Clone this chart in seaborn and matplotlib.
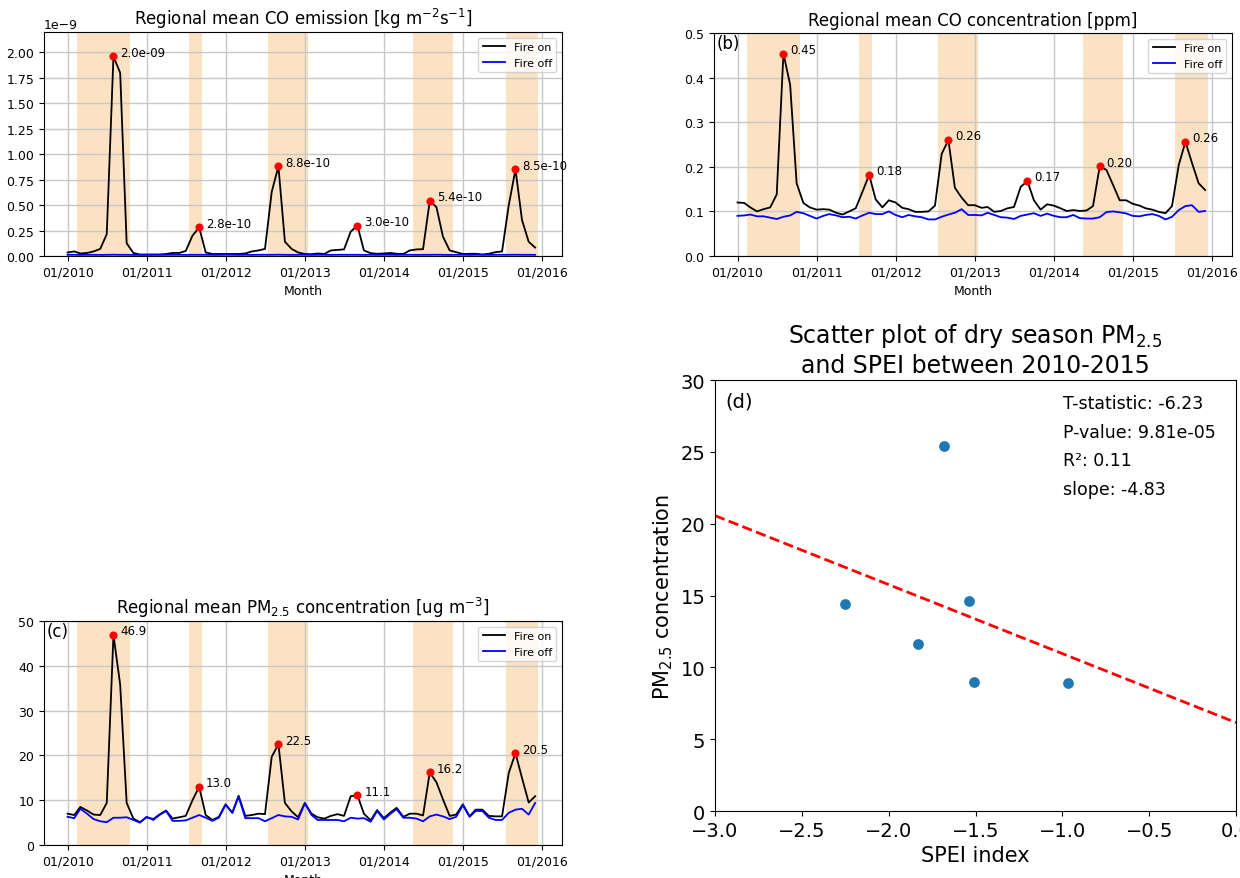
# regional fire impact: CO emission, CO / PM2.5 concentration and SPEI scatter

import numpy as np
import pandas as pd
import seaborn as sns
import matplotlib.pyplot as plt
import matplotlib.dates as mdates

months = pd.date_range('2010-01-01', periods=72, freq='MS')

# CO emission, in units of 1e-9 kg m-2 s-1
co_emis_on = [0.035, 0.045, 0.025, 0.03, 0.045, 0.07, 0.215, 1.96, 1.80, 0.125, 0.03, 0.015,
              0.015, 0.015, 0.015, 0.02, 0.03, 0.03, 0.05, 0.2, 0.281, 0.035, 0.02, 0.02,
              0.02, 0.02, 0.02, 0.025, 0.045, 0.055, 0.07, 0.63, 0.881, 0.14, 0.07, 0.035,
              0.02, 0.018, 0.025, 0.02, 0.055, 0.06, 0.065, 0.24, 0.298, 0.055, 0.028, 0.022,
              0.025, 0.03, 0.022, 0.02, 0.055, 0.065, 0.067, 0.541, 0.48, 0.19, 0.055, 0.038,
              0.02, 0.022, 0.022, 0.015, 0.022, 0.038, 0.045, 0.50, 0.851, 0.355, 0.14, 0.083]
co_emis_off = [0.012, 0.012, 0.011, 0.012, 0.012, 0.011, 0.012, 0.013, 0.012, 0.012, 0.011, 0.011,
               0.011, 0.012, 0.012, 0.011, 0.012, 0.012, 0.011, 0.012, 0.012, 0.012, 0.011, 0.011,
               0.012, 0.012, 0.011, 0.012, 0.011, 0.012, 0.012, 0.012, 0.013, 0.012, 0.011, 0.012,
               0.012, 0.011, 0.012, 0.012, 0.011, 0.012, 0.012, 0.012, 0.012, 0.011, 0.012, 0.011,
               0.012, 0.012, 0.011, 0.012, 0.012, 0.011, 0.012, 0.012, 0.013, 0.012, 0.011, 0.012,
               0.012, 0.011, 0.012, 0.012, 0.011, 0.012, 0.012, 0.012, 0.013, 0.012, 0.012, 0.012]

# CO concentration [ppm]
co_conc_on = [0.120, 0.119, 0.109, 0.100, 0.105, 0.109, 0.138, 0.454, 0.384, 0.163, 0.119, 0.109,
              0.104, 0.105, 0.104, 0.097, 0.093, 0.100, 0.107, 0.144, 0.182, 0.127, 0.109, 0.125,
              0.120, 0.108, 0.105, 0.099, 0.099, 0.100, 0.113, 0.229, 0.260, 0.153, 0.131, 0.114,
              0.114, 0.108, 0.110, 0.099, 0.101, 0.107, 0.110, 0.155, 0.168, 0.125, 0.104, 0.116,
              0.113, 0.107, 0.101, 0.103, 0.101, 0.102, 0.112, 0.201, 0.193, 0.160, 0.125, 0.125,
              0.117, 0.113, 0.107, 0.104, 0.099, 0.096, 0.112, 0.204, 0.256, 0.209, 0.163, 0.148]
co_conc_off = [0.090, 0.091, 0.093, 0.089, 0.089, 0.086, 0.083, 0.088, 0.091, 0.099, 0.096, 0.090,
               0.084, 0.090, 0.094, 0.091, 0.087, 0.088, 0.084, 0.091, 0.097, 0.094, 0.094, 0.100,
               0.092, 0.087, 0.092, 0.089, 0.087, 0.082, 0.082, 0.088, 0.093, 0.097, 0.105, 0.092,
               0.092, 0.091, 0.097, 0.092, 0.087, 0.086, 0.083, 0.090, 0.093, 0.096, 0.090, 0.095,
               0.090, 0.087, 0.087, 0.092, 0.085, 0.084, 0.084, 0.087, 0.0985, 0.100, 0.098, 0.0955,
               0.090, 0.089, 0.092, 0.094, 0.090, 0.082, 0.088, 0.103, 0.112, 0.114, 0.099, 0.101]

# PM2.5 concentration [ug m-3]
pm_on = [7.0, 6.7, 8.5, 7.7, 6.8, 6.7, 9.4, 46.9, 35.8, 9.4, 5.9, 5.1,
         6.2, 5.8, 6.8, 7.7, 5.9, 6.2, 6.5, 10.0, 13.0, 6.7, 5.6, 6.3,
         9.1, 7.2, 11.0, 6.5, 6.7, 7.0, 6.9, 19.7, 22.5, 9.4, 7.5, 6.2,
         9.4, 7.0, 6.2, 5.9, 6.5, 6.9, 6.5, 10.9, 11.1, 7.0, 5.5, 7.8,
         6.0, 7.3, 8.3, 6.3, 7.0, 7.0, 6.6, 16.2, 14.0, 10.2, 6.5, 6.8,
         9.1, 6.4, 7.9, 7.9, 6.5, 6.4, 6.4, 16.1, 20.5, 15.0, 9.5, 10.9]
pm_off = [6.3, 6.0, 8.1, 7.0, 5.8, 5.3, 5.1, 6.1, 6.1, 6.2, 5.6, 5.0,
          6.3, 5.6, 6.7, 7.6, 5.4, 5.4, 5.5, 6.1, 6.7, 6.1, 5.4, 6.1,
          9.0, 7.2, 10.8, 6.0, 6.0, 6.0, 5.3, 6.0, 6.7, 6.4, 6.3, 5.7,
          9.3, 6.7, 5.6, 5.6, 5.6, 5.6, 5.3, 6.1, 5.9, 6.0, 5.2, 7.6,
          5.7, 7.0, 8.0, 6.1, 6.1, 5.9, 5.3, 6.4, 6.8, 6.4, 5.8, 6.3,
          8.9, 6.3, 7.6, 7.6, 6.1, 5.6, 5.6, 7.2, 7.9, 8.1, 6.8, 9.4]

# dry season months (first, last)
dry_seasons = [('2010-03', '2010-10'), ('2011-08', '2011-09'), ('2012-08', '2013-01'),
               ('2014-06', '2014-11'), ('2015-08', '2015-12')]

# dry season PM2.5 vs SPEI
spei = [-2.25, -1.68, -1.54, -1.83, -1.51, -0.97]
pm_dry = [14.4, 25.4, 14.6, 11.6, 9.0, 8.9]
stats_lines = ['T-statistic: -6.23', 'P-value: 9.81e-05', 'R²: 0.11', 'slope: -4.83']

plt.rcParams['xtick.labelsize'] = 9
plt.rcParams['ytick.labelsize'] = 9

df = pd.DataFrame({'month': months,
                   'co_emis_on': np.array(co_emis_on) * 1e-9,
                   'co_emis_off': np.array(co_emis_off) * 1e-9,
                   'co_conc_on': co_conc_on, 'co_conc_off': co_conc_off,
                   'pm_on': pm_on, 'pm_off': pm_off})

fig = plt.figure(figsize=(12.4, 8.79), dpi=100)
ax_a = fig.add_axes([0.0355, 0.7076, 0.4177, 0.2548])
ax_b = fig.add_axes([0.5758, 0.7076, 0.4177, 0.2537])
ax_c = fig.add_axes([0.0355, 0.0375, 0.4177, 0.2548])
ax_d = fig.add_axes([0.5766, 0.0762, 0.4202, 0.4903])


def time_panel(ax, on_col, off_col, title, ylim, yticks, fmt, tag=None):
    for start, end in dry_seasons:
        ax.axvspan(pd.Timestamp(start) - pd.Timedelta(days=15),
                   pd.Timestamp(end) + pd.Timedelta(days=15),
                   color='#f5a237', alpha=0.3, lw=0)
    sns.lineplot(data=df, x='month', y=on_col, color='black', lw=1.3, label='Fire on', ax=ax)
    sns.lineplot(data=df, x='month', y=off_col, color='blue', lw=1.3, label='Fire off', ax=ax)

    # yearly maximum of the fire-on run
    peaks = df.loc[df.groupby(df['month'].dt.year)[on_col].idxmax()]
    sns.scatterplot(data=peaks, x='month', y=on_col, color='red', s=34, linewidth=0,
                    zorder=5, ax=ax)
    for _, row in peaks.iterrows():
        ax.annotate(fmt.format(row[on_col]), (row['month'], row[on_col]),
                    xytext=(5, 3), textcoords='offset points', va='center', fontsize=8.5)

    ax.set_ylim(*ylim)
    ax.set_yticks(yticks)
    ax.xaxis.set_major_locator(mdates.YearLocator())
    ax.xaxis.set_major_formatter(mdates.DateFormatter('%m/%Y'))
    ax.grid(True, color='#c8c8c8', lw=1.0)
    ax.set_title(title, fontsize=12)
    ax.set_xlabel('Month', fontsize=9)
    ax.set_ylabel('')
    ax.legend(loc='upper right', fontsize=8)
    if tag:
        ax.text(0.005, 0.955, tag, transform=ax.transAxes, fontsize=12, va='center')


time_panel(ax_a, 'co_emis_on', 'co_emis_off',
           'Regional mean CO emission [kg m$^{-2}$s$^{-1}$]', (0, 2.2e-9),
           np.arange(0, 2.01e-9, 0.25e-9), '{:.1e}')
time_panel(ax_b, 'co_conc_on', 'co_conc_off',
           'Regional mean CO concentration [ppm]', (0, 0.5),
           np.arange(0, 0.51, 0.1), '{:.2f}', '(b)')
time_panel(ax_c, 'pm_on', 'pm_off',
           'Regional mean PM$_{2.5}$ concentration [ug m$^{-3}$]', (0, 50),
           np.arange(0, 51, 10), '{:.1f}', '(c)')

# scatter panel
ax_d.set_xlim(-3, 0)
sns.scatterplot(x=spei, y=pm_dry, color='#1f77b4', s=60, linewidth=0, ax=ax_d)
sns.regplot(x=spei, y=pm_dry, scatter=False, ci=None, truncate=False, ax=ax_d,
            line_kws=dict(color='red', ls='--', lw=2))
ax_d.set_xlim(-3, 0)
ax_d.set_ylim(0, 30)
ax_d.set_xticks(np.arange(-3, 0.01, 0.5))
ax_d.set_yticks(np.arange(0, 31, 5))
ax_d.tick_params(labelsize=14)
ax_d.set_xlabel('SPEI index', fontsize=15)
ax_d.set_ylabel('PM$_{2.5}$ concentration', fontsize=15)
ax_d.set_title('Scatter plot of dry season PM$_{2.5}$\nand SPEI between 2010-2015', fontsize=17)
ax_d.text(0.02, 0.952, '(d)', transform=ax_d.transAxes, fontsize=14, va='center')
for k, line in enumerate(stats_lines):
    ax_d.text(0.668, 0.947 - 0.0667 * k, line, transform=ax_d.transAxes,
              fontsize=12.5, va='center')

plt.savefig('out.png', dpi=100)
